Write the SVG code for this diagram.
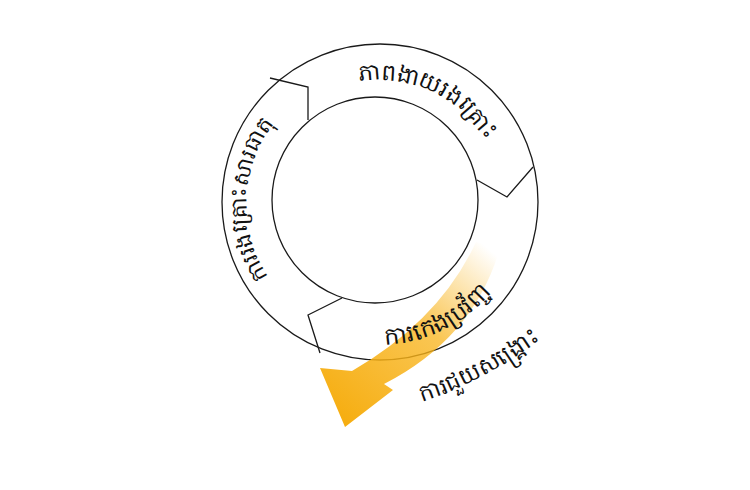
<svg xmlns="http://www.w3.org/2000/svg" width="750" height="490" viewBox="0 0 750 490">
<style>
.ln{fill:none;stroke:#1a1a1a;stroke-width:1.3}
.t{font-family:"Noto Sans","DejaVu Sans",sans-serif;fill:#111}
</style>
<defs>
<linearGradient id="g" x1="490" y1="250" x2="345" y2="420" gradientUnits="userSpaceOnUse">
<stop offset="0" stop-color="#f8b31a" stop-opacity="0"/>
<stop offset="0.45" stop-color="#f8b31a" stop-opacity="0.75"/>
<stop offset="1" stop-color="#f6ae12"/>
</linearGradient>
<path id="p1" d="M358.8,81.9 A122,122 0 0 1 502,202"/>
<path id="p2" d="M268,277 A132,132 0 0 1 335.5,79.8"/>
<path id="p3" d="M385,345 A143,143 0 0 0 515,250"/>
<path id="p4" d="M422,402 Q505,375 588,300"/>
</defs>
<rect width="750" height="490" fill="#fff"/>
<g id="ring">
<circle class="ln" cx="380" cy="202" r="158"/>
<circle class="ln" cx="375" cy="200" r="103"/>
</g>
<g id="connectors">
<polyline class="ln" points="270,78 308,87 308,120"/>
<polyline class="ln" points="533,167 507,197 477,180"/>
<polyline class="ln" points="342,298 308,315 320,353"/>
</g>
<g id="arrow">
<path fill="url(#g)" d="M500,248 Q474,338 384,384 L393,390 L345,427 L320,368 L352,371 Q440,320 476,242 Z"/>
</g>
<g id="n1"><text class="t" font-size="23"><textPath href="#p1">ភាពងាយរងគ្រោះ</textPath></text></g>
<g id="n2"><text class="t" font-size="22"><textPath href="#p2">ការរងគ្រោះសារធាតុ</textPath></text></g>
<g id="n3"><text class="t" font-size="24"><textPath href="#p3">ការកេងប្រវ័ញ្ច</textPath></text></g>
<g id="n4"><text class="t" font-size="23"><textPath href="#p4">ការជួយសង្គ្រោះ</textPath></text></g>
</svg>
